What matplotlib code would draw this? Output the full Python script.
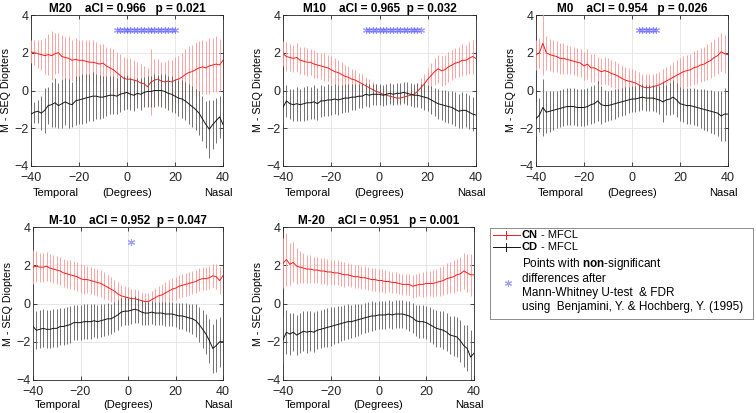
import numpy as np
import matplotlib
matplotlib.use('Agg')
import matplotlib.pyplot as plt

plt.rcParams['font.family'] = ['Liberation Sans', 'DejaVu Sans']
plt.rcParams['mathtext.fontset'] = 'custom'
plt.rcParams['mathtext.rm'] = 'Liberation Sans'
plt.rcParams['mathtext.bf'] = 'Liberation Sans:bold'

# ---------------- data ----------------
x_deg = np.linspace(-40, 40, 57)

titles = ['M20    aCI = 0.966   p = 0.021',
          'M10    aCI = 0.965  p = 0.032',
          'M0    aCI = 0.954   p = 0.026',
          'M-10    aCI = 0.952  p = 0.047',
          'M-20    aCI = 0.951   p = 0.001']

# CN (red) means
cn_m20 = [2.05, 2.0, 1.95, 1.9, 1.85, 1.9, 1.85, 1.95, 2.0, 1.8,
          1.75, 1.7, 1.6, 1.65, 1.6, 1.6, 1.55, 1.5, 1.5, 1.45,
          1.4, 1.45, 1.3, 1.2, 1.1, 0.95, 0.8, 0.65, 0.6, 0.6,
          0.55, 0.5, 0.4, 0.35, 0.2, 0.45, 0.55, 0.6, 0.5, 0.45,
          0.5, 0.45, 0.55, 0.6, 0.7, 0.85, 0.95, 1.0, 1.1, 1.2,
          1.25, 1.2, 1.3, 1.35, 1.4, 1.35, 1.6]
cn_m10 = [1.95, 1.8, 1.75, 1.7, 1.75, 1.6, 1.55, 1.5, 1.5, 1.4,
          1.35, 1.3, 1.25, 1.2, 1.1, 1.0, 0.95, 0.85, 0.75, 0.7,
          0.6, 0.55, 0.45, 0.35, 0.25, 0.15, 0.05, -0.05, -0.1, -0.2,
          -0.25, -0.3, -0.35, -0.4, -0.4, -0.35, -0.3, -0.25, -0.2, -0.05,
          0.15, 0.35, 0.6, 0.8, 1.0, 1.15, 1.05, 1.1, 1.25, 1.35,
          1.45, 1.5, 1.6, 1.6, 1.7, 1.8, 1.7]
cn_m0 = [1.9, 2.0, 2.5, 2.0, 1.9, 1.85, 1.8, 1.7, 1.7, 1.65,
         1.6, 1.55, 1.5, 1.45, 1.3, 1.4, 1.2, 1.2, 1.1, 1.0,
         1.05, 1.0, 0.9, 0.85, 0.75, 0.65, 0.55, 0.5, 0.45, 0.4,
         0.3, 0.2, 0.15, 0.15, 0.2, 0.25, 0.3, 0.4, 0.5, 0.6,
         0.7, 0.8, 0.9, 1.0, 1.05, 1.1, 1.2, 1.25, 1.35, 1.4,
         1.5, 1.6, 1.75, 1.85, 2.05, 1.95, 1.9]
cn_mm10 = [1.9, 1.95, 1.9, 1.9, 1.95, 1.85, 1.8, 1.75, 1.7, 1.6,
           1.55, 1.5, 1.45, 1.4, 1.3, 1.25, 1.25, 1.2, 1.15, 1.1,
           1.05, 0.95, 0.85, 0.75, 0.65, 0.5, 0.4, 0.35, 0.3, 0.25,
           0.25, 0.2, 0.15, 0.1, 0.1, 0.2, 0.3, 0.4, 0.45, 0.55,
           0.65, 0.75, 0.8, 0.9, 0.95, 1.0, 1.05, 1.1, 1.15, 1.25,
           1.3, 1.3, 1.35, 1.45, 1.4, 1.2, 1.45]
cn_mm20 = [2.1, 2.3, 2.05, 2.15, 1.95, 1.9, 1.85, 1.8, 1.8, 1.75,
           1.75, 1.7, 1.7, 1.65, 1.65, 1.6, 1.6, 1.55, 1.5, 1.5,
           1.45, 1.4, 1.4, 1.35, 1.35, 1.3, 1.25, 1.25, 1.2, 1.2,
           1.15, 1.15, 1.1, 1.1, 1.05, 1.0, 1.0, 1.0, 0.9, 0.95,
           1.0, 1.0, 1.05, 1.05, 1.05, 1.1, 1.15, 1.2, 1.3, 1.35,
           1.4, 1.5, 1.55, 1.7, 1.6, 1.5, 1.5]

# CN error half-widths
cn_err_m20 = [0.6, 0.65, 0.75, 0.8, 0.95, 1.1, 1.3, 1.1, 1.05, 1.15,
              1.1, 1.2, 1.1, 1.15, 1.1, 1.05, 1.1, 1.2, 1.15, 1.1,
              1.05, 1.0, 1.0, 1.05, 1.1, 1.1, 1.15, 1.1, 1.1, 1.1,
              1.05, 1.0, 1.0, 0.95, 1.0, 1.75, 1.1, 1.05, 1.0, 1.05,
              1.1, 1.15, 1.2, 1.25, 1.3, 1.35, 1.4, 1.4, 1.45, 1.4,
              1.45, 1.4, 1.5, 1.45, 1.5, 1.4, 1.45]
cn_err_m10 = [0.65, 0.75, 0.7, 0.7, 0.75, 0.7, 0.75, 0.75, 0.7, 0.75,
              0.7, 0.7, 0.75, 0.7, 0.75, 0.7, 0.65, 0.65, 0.6, 0.6,
              0.55, 0.55, 0.5, 0.5, 0.45, 0.45, 0.4, 0.4, 0.35, 0.35,
              0.35, 0.35, 0.35, 0.35, 0.35, 0.35, 0.35, 0.4, 0.4, 0.45,
              0.5, 0.55, 0.6, 0.65, 0.7, 0.75, 0.8, 0.8, 0.8, 0.8,
              0.8, 0.8, 0.85, 0.8, 0.85, 0.9, 1.1]
cn_err_m0 = [0.8, 0.8, 1.7, 0.9, 0.85, 0.85, 0.8, 0.8, 0.8, 0.75,
             0.75, 0.75, 0.75, 0.75, 0.75, 0.8, 0.75, 0.75, 0.7, 0.7,
             0.7, 0.7, 0.7, 0.7, 0.7, 0.7, 0.7, 0.7, 0.7, 0.7,
             0.7, 0.7, 0.7, 0.7, 0.7, 0.7, 0.7, 0.75, 0.75, 0.75,
             0.8, 0.8, 0.8, 0.85, 0.85, 0.85, 0.9, 0.9, 0.9, 0.9,
             0.95, 0.95, 1.0, 1.0, 1.0, 1.0, 0.9]
cn_err_mm10 = [0.9, 0.8, 0.75, 0.75, 0.75, 0.75, 0.75, 0.75, 0.75, 0.75,
               0.75, 0.75, 0.75, 0.75, 0.75, 0.75, 0.7, 0.7, 0.7, 0.7,
               0.7, 0.7, 0.65, 0.65, 0.6, 0.6, 0.55, 0.55, 0.55, 0.5,
               0.5, 0.5, 0.45, 0.45, 0.45, 0.45, 0.5, 0.5, 0.55, 0.55,
               0.6, 0.6, 0.6, 0.6, 0.6, 0.6, 0.6, 0.6, 0.6, 0.6,
               0.6, 0.6, 0.6, 0.6, 0.65, 0.7, 0.8]
cn_err_mm20 = [1.3, 1.4, 1.1, 1.05, 0.95, 0.85, 0.8, 0.75, 0.75, 0.7,
               0.7, 0.7, 0.7, 0.7, 0.65, 0.65, 0.65, 0.65, 0.65, 0.6,
               0.6, 0.6, 0.6, 0.6, 0.6, 0.6, 0.6, 0.6, 0.6, 0.6,
               0.6, 0.55, 0.55, 0.55, 0.55, 0.55, 0.55, 0.55, 0.6, 0.6,
               0.6, 0.65, 0.65, 0.65, 0.7, 0.7, 0.75, 0.75, 0.8, 0.8,
               0.85, 0.85, 0.9, 0.95, 1.0, 1.1, 1.2]

# CD (black) means
cd_m20 = [-1.25, -1.15, -1.1, -1.2, -1.05, -0.8, -0.75, -0.65, -0.8, -0.7,
          -0.6, -0.7, -0.75, -0.55, -0.5, -0.45, -0.4, -0.35, -0.3, -0.3,
          -0.35, -0.35, -0.3, -0.25, -0.25, -0.3, -0.2, -0.15, -0.1, -0.2,
          -0.25, -0.15, -0.2, -0.1, -0.05, -0.05, 0.0, 0.0, 0.0, -0.05,
          -0.15, -0.2, -0.3, -0.4, -0.45, -0.55, -0.7, -0.85, -1.0, -1.2,
          -1.5, -1.8, -2.05, -1.8, -1.6, -1.4, -1.8]
cd_m10 = [-0.9, -0.55, -0.7, -0.75, -0.7, -0.75, -0.7, -0.65, -0.65, -0.6,
          -0.7, -0.55, -0.55, -0.5, -0.5, -0.45, -0.5, -0.45, -0.4, -0.4,
          -0.35, -0.35, -0.3, -0.3, -0.2, -0.25, -0.2, -0.2, -0.2, -0.25,
          -0.2, -0.15, -0.2, -0.15, -0.15, -0.1, -0.15, -0.2, -0.25, -0.25,
          -0.3, -0.35, -0.4, -0.5, -0.6, -0.7, -0.75, -0.8, -0.85, -0.9,
          -1.0, -1.1, -1.05, -1.05, -1.15, -1.25, -1.3]
cd_m0 = [-1.5, -1.3, -0.9, -1.15, -1.1, -1.05, -1.0, -0.95, -0.9, -0.85,
         -0.85, -0.85, -0.9, -0.9, -0.9, -0.85, -0.75, -0.7, -0.55, -0.75,
         -0.8, -0.8, -0.75, -0.7, -0.65, -0.6, -0.55, -0.5, -0.45, -0.45,
         -0.4, -0.35, -0.4, -0.4, -0.4, -0.45, -0.5, -0.6, -0.5, -0.45,
         -0.35, -0.5, -0.7, -0.75, -0.8, -0.8, -0.85, -0.9, -0.95, -1.0,
         -1.05, -1.1, -1.15, -1.2, -1.35, -1.25, -1.25]
cd_mm10 = [-1.2, -1.4, -1.35, -1.3, -1.35, -1.35, -1.3, -1.3, -1.2, -1.2,
           -1.15, -1.1, -1.0, -1.0, -1.0, -0.95, -0.95, -0.95, -0.9, -0.95,
           -0.9, -0.85, -0.8, -0.8, -0.7, -0.6, -0.45, -0.4, -0.4, -0.35,
           -0.3, -0.35, -0.45, -0.5, -0.5, -0.45, -0.5, -0.5, -0.5, -0.55,
           -0.55, -0.55, -0.6, -0.65, -0.65, -0.7, -0.75, -0.8, -0.9, -1.1,
           -1.35, -1.6, -1.95, -2.35, -2.2, -2.0, -2.0]
cd_mm20 = [-1.9, -1.5, -1.6, -1.5, -1.65, -1.55, -1.45, -1.5, -1.45, -1.5,
           -1.4, -1.35, -1.3, -1.25, -1.2, -1.15, -1.1, -1.05, -1.0, -0.95,
           -0.95, -0.9, -0.85, -0.8, -0.75, -0.7, -0.65, -0.65, -0.6, -0.6,
           -0.6, -0.55, -0.6, -0.55, -0.55, -0.55, -0.6, -0.65, -0.75, -0.9,
           -0.95, -0.95, -1.0, -1.1, -1.2, -1.3, -1.35, -1.4, -1.5, -1.65,
           -1.7, -1.75, -1.95, -2.2, -2.35, -2.8, -2.6]

# CD error half-widths
cd_err_m20 = [0.5, 0.55, 0.6, 0.9, 1.2, 1.0, 1.2, 1.3, 1.2, 1.3,
              1.25, 1.3, 1.2, 1.3, 1.25, 1.3, 1.3, 1.25, 1.3, 1.2,
              1.15, 1.1, 1.05, 1.0, 1.0, 0.95, 0.95, 0.9, 0.9, 0.85,
              0.85, 0.8, 0.85, 0.8, 0.8, 0.8, 0.85, 0.8, 0.85, 0.9,
              0.9, 0.95, 0.9, 0.95, 1.0, 1.0, 1.05, 1.1, 1.1, 1.15,
              1.2, 1.25, 1.55, 1.3, 1.2, 1.1, 1.0]
cd_err_m10 = [0.8, 0.85, 0.8, 0.85, 0.9, 0.85, 0.9, 0.9, 0.85, 0.9,
              0.85, 0.85, 0.8, 0.85, 0.8, 0.8, 0.8, 0.75, 0.75, 0.75,
              0.7, 0.7, 0.65, 0.65, 0.6, 0.6, 0.55, 0.55, 0.55, 0.55,
              0.55, 0.55, 0.55, 0.55, 0.55, 0.55, 0.6, 0.6, 0.6, 0.65,
              0.65, 0.7, 0.7, 0.75, 0.75, 0.8, 0.8, 0.85, 0.85, 0.85,
              0.9, 0.9, 0.95, 0.9, 0.9, 0.9, 0.85]
cd_err_m0 = [0.9, 0.9, 1.5, 1.1, 1.1, 1.05, 1.0, 1.0, 1.0, 1.0,
             1.0, 1.0, 1.0, 1.0, 1.0, 1.0, 1.0, 1.0, 1.05, 1.0,
             0.85, 0.8, 0.8, 0.8, 0.75, 0.75, 0.75, 0.7, 0.7, 0.7,
             0.7, 0.7, 0.7, 0.7, 0.7, 0.7, 0.75, 1.05, 0.8, 0.85,
             0.9, 0.9, 0.9, 0.9, 0.95, 0.95, 1.0, 1.0, 1.05, 1.1,
             1.1, 1.15, 1.15, 1.2, 1.3, 1.4, 1.3]
cd_err_mm10 = [1.0, 1.0, 1.0, 1.0, 1.0, 1.0, 1.0, 1.0, 0.95, 0.95,
               0.95, 0.95, 0.9, 0.9, 0.9, 0.9, 0.9, 0.9, 0.85, 0.85,
               0.85, 0.85, 0.85, 0.8, 0.8, 0.8, 0.75, 0.75, 0.7, 0.7,
               0.7, 0.65, 0.65, 0.6, 0.6, 0.6, 0.6, 0.6, 0.6, 0.65,
               0.65, 0.65, 0.65, 0.7, 0.7, 0.75, 0.75, 0.8, 0.85, 0.9,
               1.0, 1.05, 1.15, 1.3, 1.4, 1.3, 1.2]
cd_err_mm20 = [1.2, 1.15, 1.1, 1.0, 1.05, 1.05, 1.05, 1.1, 1.05, 1.05,
               1.0, 1.0, 1.0, 1.0, 1.0, 0.95, 0.95, 0.9, 0.9, 0.9,
               0.85, 0.85, 0.85, 0.8, 0.8, 0.8, 0.8, 0.75, 0.75, 0.75,
               0.75, 0.75, 0.75, 0.75, 0.75, 0.75, 0.75, 0.8, 0.8, 0.8,
               0.85, 0.85, 0.85, 0.9, 0.9, 0.95, 0.95, 1.0, 1.0, 1.0,
               1.05, 1.05, 1.1, 1.1, 1.2, 1.4, 1.35]

# indices of points with non-significant differences (marked at y = 3.2)
ns_m20 = [25, 26, 27, 28, 29, 30, 31, 32, 33, 34, 35, 36, 37, 38, 39, 40, 41, 42]
ns_m10 = [24, 25, 26, 27, 28, 29, 30, 31, 32, 33, 34, 35, 36, 37, 38, 39, 40]
ns_m0 = [30, 31, 32, 33, 34, 35]
ns_mm10 = [29]
ns_mm20 = []
ns_level = 3.2

panels = [
    (titles[0], cn_m20, cn_err_m20, cd_m20, cd_err_m20, ns_m20),
    (titles[1], cn_m10, cn_err_m10, cd_m10, cd_err_m10, ns_m10),
    (titles[2], cn_m0, cn_err_m0, cd_m0, cd_err_m0, ns_m0),
    (titles[3], cn_mm10, cn_err_mm10, cd_mm10, cd_err_mm10, ns_mm10),
    (titles[4], cn_mm20, cn_err_mm20, cd_mm20, cd_err_mm20, ns_mm20),
]

# ---------------- layout ----------------
W, H = 756, 413
boxes = [(31, 15, 192, 151), (283, 15, 193, 151), (536, 15, 192, 151),
         (33, 227, 190, 153), (283, 227, 191, 153)]

fig = plt.figure(figsize=(W / 100, H / 100), dpi=100)
FS = 8.5
LFS = 7.7
red_bar = '#ff9494'
red_line = '#ff1a1a'
blk_bar = '#5c5c5c'
blk_line = '#141414'

for k, ((title, cn, cne, cd, cde, ns), (l, t, w, h)) in enumerate(zip(panels, boxes)):
    ax = fig.add_axes([l / W, 1 - (t + h) / H, w / W, h / H])
    ax.errorbar(x_deg, cn, yerr=cne, color=red_line, ecolor=red_bar,
                elinewidth=0.6, lw=0.7, capsize=0, zorder=3)
    ax.errorbar(x_deg, cd, yerr=cde, color=blk_line, ecolor=blk_bar,
                elinewidth=0.6, lw=0.7, capsize=0, zorder=4)
    if ns:
        xs = [x_deg[i] for i in ns]
        ax.plot(xs, [ns_level] * len(xs), linestyle='none', marker=(6, 2, 0),
                markersize=5, color='#5050ff', alpha=0.55, mew=0.8, zorder=5)
    ax.set_xlim(-40, 40)
    ax.set_ylim(-4, 4)
    ax.set_xticks([-40, -20, 0, 20, 40])
    ax.set_yticks([-4, -2, 0, 2, 4])
    ax.grid(True, color='#e3e3e3', lw=0.6)
    ax.set_axisbelow(True)
    ax.tick_params(direction='in', length=3, width=0.6, labelsize=9,
                   top=True, right=True, colors='#262626')
    ax.tick_params(axis='x', pad=4)
    ax.tick_params(axis='y', pad=2)
    for s in ax.spines.values():
        s.set_linewidth(0.6)
        s.set_color('#262626')
    ax.set_title(title, fontsize=FS, fontweight='bold', pad=2.5)
    ax.set_ylabel('M - SEQ Diopters', fontsize=LFS, labelpad=2)
    ty = -27.0 / h if k < 3 else -24.5 / h
    ax.text(0.01, ty, 'Temporal', transform=ax.transAxes, ha='left',
            va='center', fontsize=LFS + 0.3)
    ax.text(0.5, ty, '(Degrees)', transform=ax.transAxes, ha='center',
            va='center', fontsize=LFS + 0.3)
    ax.text(1.05, ty, 'Nasal', transform=ax.transAxes, ha='right',
            va='center', fontsize=LFS + 0.3)

# ---------------- legend ----------------
lx, ly, lw_, lh = 490, 228, 263, 91
lax = fig.add_axes([lx / W, 1 - (ly + lh) / H, lw_ / W, lh / H])
lax.set_xlim(0, lw_)
lax.set_ylim(lh, 0)
lax.set_xticks([])
lax.set_yticks([])
for s in lax.spines.values():
    s.set_linewidth(0.7)
    s.set_color('#8c8c8c')

LEG = 8.0
for yy, lc in [(6.5, red_line), (18.5, blk_line)]:
    lax.plot([3, 30], [yy, yy], color=lc, lw=0.7)
    lax.plot([16, 16], [yy - 4, yy + 4], color=lc, lw=0.7)
lax.text(32, 6.5, 'CN', va='center', ha='left', fontsize=LEG, fontweight='bold')
lax.text(51, 6.5, '- MFCL', va='center', ha='left', fontsize=LEG)
lax.text(32, 18.5, 'CD', va='center', ha='left', fontsize=LEG, fontweight='bold')
lax.text(51, 18.5, '- MFCL', va='center', ha='left', fontsize=LEG)
lax.plot([18], [55], linestyle='none', marker=(6, 2, 0), markersize=5,
         color='#5050ff', alpha=0.55, mew=0.8)
leg_lines = [r'Points with $\bf{non}$-significant',
             'differences after',
             'Mann-Whitney U-test  & FDR',
             'using  Benjamini, Y. & Hochberg, Y. (1995)']
for yy, s in zip([36, 51, 65, 79], leg_lines):
    lax.text(32, yy, s, va='center', ha='left', fontsize=FS)

fig.savefig('out.png', dpi=100)
